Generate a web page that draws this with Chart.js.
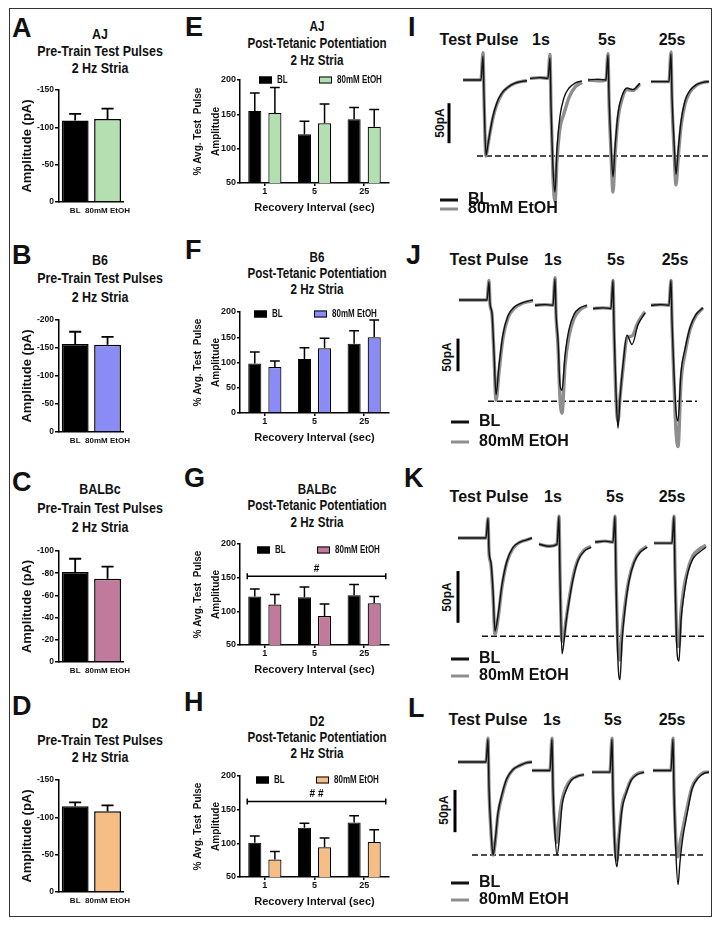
<!DOCTYPE html>
<html>
<head>
<meta charset="utf-8">
<title>Pre-train test pulses and post-tetanic potentiation, 2 Hz stria</title>
<script src="https://cdn.jsdelivr.net/npm/chart.js@4.4.1/dist/chart.umd.min.js"></script>
<style>
  body { margin: 0; background: #fff; }
  #page { position: relative; width: 721px; height: 926px; overflow: hidden; font-family: "Liberation Sans", Arial, sans-serif; color: #111; }
  #frame { position: absolute; left: 9px; top: 8px; width: 703px; height: 909px; border: 1.5px solid #333; box-sizing: border-box; }
  canvas { position: absolute; }
  .t { position: absolute; white-space: nowrap; line-height: 1; transform: translate(-50%, -50%); }
  .l { position: absolute; white-space: nowrap; line-height: 1; transform: translateY(-50%); }
  .letter { font-size: 27px; font-weight: bold; }
  /* condensed look of the original headings */
  .ttl { font-weight: bold; font-size: 15px; transform: translate(-50%, -50%) scaleX(0.83); }
  .ttl2 { font-weight: bold; font-size: 14px; transform: translate(-50%, -50%) scaleX(0.83); }
  .leg { font-weight: bold; font-size: 10px; transform-origin: left center; transform: translateY(-50%) scaleX(0.8); }
  .box { position: absolute; width: 13px; height: 7px; border: 1px solid #000; box-sizing: border-box; transform: translateY(-50%); }
  .tr { font-weight: bold; font-size: 16px; }
  .pa { font-weight: bold; font-size: 12px; transform: translate(-50%, -50%) rotate(-90deg); }
  .sw { position: absolute; width: 18px; height: 3px; transform: translateY(-50%); }
</style>
</head>
<body>
<div id="page">
  <div id="frame"></div>

  <!-- panel letters -->
  <div class="l letter" style="left:12px;top:28px">A</div>
  <div class="l letter" style="left:12px;top:255px">B</div>
  <div class="l letter" style="left:12px;top:482px">C</div>
  <div class="l letter" style="left:12px;top:706px">D</div>
  <div class="l letter" style="left:185px;top:27px">E</div>
  <div class="l letter" style="left:185px;top:250px">F</div>
  <div class="l letter" style="left:184px;top:478px">G</div>
  <div class="l letter" style="left:184px;top:702px">H</div>
  <div class="l letter" style="left:408px;top:27px">I</div>
  <div class="l letter" style="left:406px;top:255px">J</div>
  <div class="l letter" style="left:404px;top:478px">K</div>
  <div class="l letter" style="left:408px;top:708px">L</div>

  <!-- titles, left column -->
  <div class="t ttl" style="left:100px;top:33px">AJ</div>
  <div class="t ttl" style="left:100px;top:50px">Pre-Train Test Pulses</div>
  <div class="t ttl" style="left:100px;top:67px">2 Hz Stria</div>
  <div class="t ttl" style="left:100px;top:259px">B6</div>
  <div class="t ttl" style="left:100px;top:277px">Pre-Train Test Pulses</div>
  <div class="t ttl" style="left:100px;top:296px">2 Hz Stria</div>
  <div class="t ttl" style="left:100px;top:488px">BALBc</div>
  <div class="t ttl" style="left:100px;top:507px">Pre-Train Test Pulses</div>
  <div class="t ttl" style="left:100px;top:526px">2 Hz Stria</div>
  <div class="t ttl" style="left:100px;top:722px">D2</div>
  <div class="t ttl" style="left:100px;top:739px">Pre-Train Test Pulses</div>
  <div class="t ttl" style="left:100px;top:756px">2 Hz Stria</div>

  <!-- titles, middle column -->
  <div class="t ttl2" style="left:317px;top:26px">AJ</div>
  <div class="t ttl2" style="left:317px;top:43px">Post-Tetanic Potentiation</div>
  <div class="t ttl2" style="left:317px;top:60px">2 Hz Stria</div>
  <div class="t ttl2" style="left:317px;top:257px">B6</div>
  <div class="t ttl2" style="left:317px;top:273px">Post-Tetanic Potentiation</div>
  <div class="t ttl2" style="left:317px;top:289px">2 Hz Stria</div>
  <div class="t ttl2" style="left:317px;top:489px">BALBc</div>
  <div class="t ttl2" style="left:317px;top:505px">Post-Tetanic Potentiation</div>
  <div class="t ttl2" style="left:317px;top:522px">2 Hz Stria</div>
  <div class="t ttl2" style="left:317px;top:721px">D2</div>
  <div class="t ttl2" style="left:317px;top:737px">Post-Tetanic Potentiation</div>
  <div class="t ttl2" style="left:317px;top:753px">2 Hz Stria</div>

  <!-- trace panel headings -->
  <div class="t tr" style="left:479px;top:40px">Test Pulse</div>
  <div class="t tr" style="left:541px;top:40px">1s</div>
  <div class="t tr" style="left:607px;top:40px">5s</div>
  <div class="t tr" style="left:672px;top:40px">25s</div>
  <div class="t tr" style="left:489px;top:260px">Test Pulse</div>
  <div class="t tr" style="left:553px;top:260px">1s</div>
  <div class="t tr" style="left:616px;top:260px">5s</div>
  <div class="t tr" style="left:675px;top:260px">25s</div>
  <div class="t tr" style="left:489px;top:497px">Test Pulse</div>
  <div class="t tr" style="left:553px;top:497px">1s</div>
  <div class="t tr" style="left:615px;top:497px">5s</div>
  <div class="t tr" style="left:672px;top:497px">25s</div>
  <div class="t tr" style="left:488px;top:720px">Test Pulse</div>
  <div class="t tr" style="left:552px;top:720px">1s</div>
  <div class="t tr" style="left:613px;top:720px">5s</div>
  <div class="t tr" style="left:672px;top:720px">25s</div>

  <div class="t pa" style="left:440px;top:123px">50pA</div>
  <div class="t pa" style="left:447px;top:357px">50pA</div>
  <div class="t pa" style="left:447px;top:597px">50pA</div>
  <div class="t pa" style="left:444px;top:810px">50pA</div>

  <canvas id="cA" width="119" height="142" style="left:16px;top:80px"></canvas>
  <canvas id="cB" width="119" height="142" style="left:16px;top:310px"></canvas>
  <canvas id="cC" width="119" height="141" style="left:16px;top:541px"></canvas>
  <canvas id="cD" width="119" height="142" style="left:16px;top:770px"></canvas>

  <canvas id="cE" width="204" height="151" style="left:187px;top:70px"></canvas>
  <canvas id="cF" width="204" height="149" style="left:187px;top:302px"></canvas>
  <canvas id="cG" width="204" height="149" style="left:187px;top:534px"></canvas>
  <canvas id="cH" width="204" height="149" style="left:187px;top:766px"></canvas>

  <canvas id="cI" width="284" height="180" style="left:425px;top:45px"></canvas>
  <canvas id="cJ" width="284" height="190" style="left:425px;top:265px"></canvas>
  <canvas id="cK" width="284" height="195" style="left:425px;top:495px"></canvas>
  <canvas id="cL" width="284" height="190" style="left:425px;top:725px"></canvas>
</div>

<script>
// ---- pre-train test pulse amplitude (pA), mean and SEM ----
const preGroups = ["BL", "80mM EtOH"];
const preAJ = [-109, -111];      const preAJErr = [9, 14];
const preB6 = [-157, -156];      const preB6Err = [22, 14];
const preBALBc = [-81, -75];     const preBALBcErr = [12, 11];
const preD2 = [-115, -108];      const preD2Err = [5, 8];

// ---- post-tetanic potentiation, % of average test pulse ----
const intervals = ["1", "5", "25"];
const ptpAJ_BL = [155, 121, 143];    const ptpAJ_BLErr = [26, 19, 17];
const ptpAJ_Et = [152, 137, 132];    const ptpAJ_EtErr = [37, 28, 25];
const ptpB6_BL = [98, 107, 137];     const ptpB6_BLErr = [23, 22, 26];
const ptpB6_Et = [91, 128, 150];     const ptpB6_EtErr = [12, 20, 34];
const ptpBALBc_BL = [122, 121, 124]; const ptpBALBc_BLErr = [11, 15, 16];
const ptpBALBc_Et = [110, 93, 112];  const ptpBALBc_EtErr = [15, 18, 10];
const ptpD2_BL = [101, 123, 131];    const ptpD2_BLErr = [10, 7, 10];
const ptpD2_Et = [76, 94, 102];      const ptpD2_EtErr = [12, 14, 18];
const sigBALBc = 152;   // "#" bracket level
const sigD2 = 162;      // "# #" bracket level

// ---- example traces (pA, relative to test pulse baseline) ----
// sample times (ms) relative to each stimulus
const T = [-30, -20, -10, -2, 0, 1, 3, 5, 7, 10, 14, 19, 25, 32, 38, 44];

const I_stim = [58, 125, 183, 246];
const I_bl = [
  [null, 0, 0, 0, 30, -20, -94, -80, -65, -45, -28, -16, -9, -4, -2, -1],
  [null, 2, 3, 2, 28, -30, -110, -140, -85, -45, -22, -10, -4, -1, null, null],
  [null, 0, 1, 0, 31, -20, -80, -121, -85, -42, -20, -10, -12, -4, null, null],
  [null, -2, -2, -2, 33, -20, -75, -118, -90, -52, -26, -13, -6, -3, -2, null]
];
const I_et = [
  [null, 0, 0, 0, 34, -22, -95, -81, -66, -47, -30, -17, -9, -4, -2, -1],
  [null, 2, 3, 2, 32, -35, -120, -152, -100, -60, -42, -22, -9, -3, null, null],
  [null, 0, -1, 0, 33, -25, -90, -140, -95, -48, -24, -12, -13, -5, null, null],
  [null, -2, -2, -2, 35, -25, -85, -131, -100, -58, -30, -15, -7, -3, -2, null]
];
const I_ref = -95;

const J_stim = [64, 130, 188, 246];
const J_bl = [
  [0, 0, 0, 0, 28, -5, -20, -80, -145, -100, -52, -24, -11, -5, -2, 0],
  [null, -8, -7, -8, 32, -20, -60, -130, -138, -85, -45, -22, -12, -8, null, null],
  [null, -13, -12, -13, 30, -40, -140, -196, -150, -99, -54, -68, -38, -20, null, null],
  [null, -8, -7, -8, 30, -30, -110, -170, -185, -110, -75, -42, -22, -12, null, null]
];
const J_et = [
  [0, 0, 0, 0, 30, -6, -22, -85, -153, -110, -58, -27, -13, -6, -3, -1],
  [null, -8, -7, -8, 34, -22, -70, -150, -173, -100, -55, -28, -15, -9, null, null],
  [null, -13, -12, -13, 30, -45, -150, -185, -150, -105, -58, -55, -34, -18, null, null],
  [null, -8, -7, -8, 30, -35, -125, -200, -224, -125, -82, -45, -24, -12, null, null]
];
const J_ref = -155;

const K_stim = [63, 134, 190, 249];
const K_bl = [
  [0, 0, 0, 0, 19, -12, -24, -50, -90, -75, -45, -22, -9, -4, -2, 0],
  [null, -6, -8, -6, 21, -40, -112, -100, -82, -62, -40, -22, -13, -9, null, null],
  [null, -4, -3, -4, 21, -40, -120, -137, -100, -69, -42, -24, -14, -9, null, null],
  [null, -5, -5, -5, 21, -35, -110, -119, -80, -55, -33, -20, -14, -9, null, null]
];
const K_et = [
  [0, 0, 0, 0, 19, -14, -26, -55, -93, -78, -47, -23, -10, -4, -2, 0],
  [null, -6, -8, -6, 21, -35, -100, -95, -80, -60, -38, -21, -12, -8, null, null],
  [null, -4, -3, -4, 21, -35, -105, -118, -92, -65, -40, -23, -13, -8, null, null],
  [null, -5, -5, -5, 21, -30, -98, -105, -72, -48, -30, -17, -11, -7, null, null]
];
const K_ref = -95;

const L_stim = [63, 127, 187, 248];
const L_bl = [
  [0, 0, 0, 0, 27, -30, -80, -110, -95, -60, -38, -19, -9, -4, -1, 0],
  [null, -10, -10, -10, 27, -30, -85, -110, -95, -52, -34, -22, -17, -15, null, null],
  [null, -12, -12, -12, 27, -35, -105, -124, -92, -56, -38, -22, -15, -12, null, null],
  [null, -10, -10, -10, 27, -35, -110, -145, -118, -88, -62, -32, -19, -13, -12, null]
];
const L_et = [
  [0, 0, 0, 0, 28, -32, -82, -110, -97, -62, -40, -20, -9, -4, -1, 0],
  [null, -10, -10, -10, 28, -35, -80, -95, -70, -45, -30, -21, -17, -15, null, null],
  [null, -12, -12, -12, 28, -38, -100, -116, -88, -52, -36, -21, -14, -12, null, null],
  [null, -10, -10, -10, 28, -35, -95, -112, -96, -78, -55, -30, -18, -12, -12, null]
];
const L_ref = -110;

const FONT = '"Liberation Sans", Arial, sans-serif';
const GREEN = '#b4dfb1', BLUE = '#8b8bf5', MAUVE = '#c27a9c', PEACH = '#f6be85';

Chart.defaults.font.family = FONT;
Chart.defaults.color = '#111';

// upward SEM whiskers drawn from the bar tops
const errorBars = {
  id: 'errorBars',
  afterDatasetsDraw(chart, args, opts) {
    const ctx = chart.ctx, y = chart.scales.y;
    chart.data.datasets.forEach((ds, i) => {
      if (!ds.errors) return;
      chart.getDatasetMeta(i).data.forEach((bar, j) => {
        const v = ds.data[j];
        const yEnd = y.getPixelForValue(v + Math.sign(v) * ds.errors[j]);
        const half = bar.width * opts.cap / 2;
        ctx.save();
        ctx.strokeStyle = '#000';
        ctx.lineWidth = opts.width;
        ctx.beginPath();
        ctx.moveTo(bar.x, bar.y);
        ctx.lineTo(bar.x, yEnd);
        ctx.moveTo(bar.x - half, yEnd);
        ctx.lineTo(bar.x + half, yEnd);
        ctx.stroke();
        ctx.restore();
      });
    });
  }
};

// horizontal significance bracket over all groups
const sigBracket = {
  id: 'sigBracket',
  afterDatasetsDraw(chart, args, opts) {
    if (opts.value === undefined) return;
    const ctx = chart.ctx;
    const first = chart.getDatasetMeta(0).data[0];
    const lastMeta = chart.getDatasetMeta(chart.data.datasets.length - 1).data;
    const last = lastMeta[lastMeta.length - 1];
    const x0 = first.x - first.width / 2 - 1;
    const x1 = last.x + last.width / 2 + 5;
    const yy = chart.scales.y.getPixelForValue(opts.value);
    ctx.save();
    ctx.strokeStyle = '#000';
    ctx.lineWidth = 1.5;
    ctx.beginPath();
    ctx.moveTo(x0, yy); ctx.lineTo(x1, yy);
    ctx.moveTo(x0, yy - 3); ctx.lineTo(x0, yy + 3);
    ctx.moveTo(x1, yy - 3); ctx.lineTo(x1, yy + 3);
    ctx.stroke();
    ctx.fillStyle = '#000';
    ctx.font = 'bold 10px ' + FONT;
    ctx.textAlign = 'center';
    ctx.textBaseline = 'bottom';
    ctx.fillText(opts.text, (x0 + x1) / 2, yy - 2);
    ctx.restore();
  }
};

function preChart(id, vals, errs, color, yTop, step) {
  new Chart(document.getElementById(id), {
    type: 'bar',
    data: {
      labels: preGroups,
      datasets: [{
        data: vals,
        errors: errs,
        backgroundColor: ['#000', color],
        borderColor: '#000',
        borderWidth: 1.5,
        barPercentage: 0.83,
        categoryPercentage: 1
      }]
    },
    options: {
      responsive: false,
      animation: false,
      layout: { padding: { top: 10, right: 4, left: 0, bottom: 0 } },
      plugins: {
        legend: { display: false },
        tooltip: { enabled: false },
        errorBars: { cap: 0.45, width: 1.8 }
      },
      scales: {
        x: {
          ticks: { font: { size: 8, weight: 'bold' }, padding: 4, maxRotation: 0, autoSkip: false },
          grid: { drawOnChartArea: false, drawTicks: false },
          border: { color: '#000', width: 1.5 },
          afterFit(s) { s.height = 20; }
        },
        y: {
          reverse: true,
          min: yTop,
          max: 0,
          ticks: { stepSize: step, font: { size: 8.5, weight: 'bold' }, padding: 1 },
          grid: { drawOnChartArea: false, tickLength: 4, color: '#000', lineWidth: 1.5 },
          border: { color: '#000', width: 1.5 },
          title: { display: true, text: 'Amplitude (pA)', font: { size: 13, weight: 'bold' }, padding: { top: 4, bottom: 0 } },
          afterFit(s) { s.width = 43; }
        }
      }
    },
    plugins: [errorBars]
  });
}

function ptpChart(id, bl, blErr, et, etErr, color, yMin, sig) {
  new Chart(document.getElementById(id), {
    type: 'bar',
    data: {
      labels: intervals,
      datasets: [
        { label: 'BL', data: bl, errors: blErr, backgroundColor: '#000', borderColor: '#000', borderWidth: 1 },
        { label: '80mM EtOH', data: et, errors: etErr, backgroundColor: color, borderColor: '#000', borderWidth: 1.2 }
      ]
    },
    options: {
      responsive: false,
      animation: false,
      datasets: { bar: { barPercentage: 0.65, categoryPercentage: 0.81 } },
      layout: { padding: { top: 10, right: 2, left: 0, bottom: 0 } },
      plugins: {
        legend: { display: false },
        tooltip: { enabled: false },
        errorBars: { cap: 0.75, width: 1.5 },
        sigBracket: sig || {}
      },
      scales: {
        x: {
          ticks: { font: { size: 9, weight: 'bold' }, padding: 0, maxRotation: 0, autoSkip: false },
          grid: { offset: false, drawOnChartArea: false, tickLength: 3, color: '#000', lineWidth: 1.5 },
          border: { color: '#000', width: 1.5 },
          title: { display: true, text: 'Recovery Interval (sec)', font: { size: 11, weight: 'bold' }, padding: { top: 2, bottom: 6 } },
          afterFit(s) { s.height = 38; }
        },
        y: {
          min: yMin,
          max: 200,
          ticks: { stepSize: 50, font: { size: 9, weight: 'bold' }, padding: 1 },
          grid: { drawOnChartArea: false, tickLength: 3, color: '#000', lineWidth: 1.5 },
          border: { color: '#000', width: 1.5 },
          title: {
            display: true,
            text: ['% Avg. Test  Pulse', 'Amplitude'],
            font: { size: 10, weight: 'bold', lineHeight: 1.8 },
            padding: { top: 2, bottom: 0 }
          },
          afterFit(s) { s.width = 53; }
        }
      }
    },
    plugins: [errorBars, sigBracket]
  });
}

function buildTrace(stim, segs) {
  const pts = [];
  segs.forEach((seg, s) => {
    seg.forEach((v, k) => {
      if (v !== null) pts.push({ x: stim[s] + T[k], y: v });
    });
    pts.push({ x: pts[pts.length - 1].x, y: null });
  });
  return pts;
}

// lay: canvas height, baseline px from canvas top, px per pA, dashed line x-span, scale bar x and top
function traceChart(id, stim, bl, et, ref, lay) {
  const yMax = lay.base / lay.pxPerPA;
  const yMin = yMax - lay.height / lay.pxPerPA;
  new Chart(document.getElementById(id), {
    type: 'line',
    data: {
      datasets: [
        { label: 'BL', data: buildTrace(stim, bl), borderColor: '#111', borderWidth: 1.4 },
        { label: '80mM EtOH', data: buildTrace(stim, et), borderColor: '#8e8e8e', borderWidth: 3.4 },
        { label: 'ref', data: [{ x: lay.refFrom, y: ref }, { x: lay.refTo, y: ref }], borderColor: '#111', borderWidth: 1.5, borderDash: [6, 3] },
        { label: '50pA', data: [{ x: lay.barX, y: lay.barTop }, { x: lay.barX, y: lay.barTop - 50 }], borderColor: '#000', borderWidth: 3 }
      ]
    },
    options: {
      responsive: false,
      animation: false,
      spanGaps: false,
      layout: { padding: 0 },
      elements: { point: { radius: 0 }, line: { cubicInterpolationMode: 'monotone', borderCapStyle: 'butt' } },
      plugins: { legend: { display: false }, tooltip: { enabled: false } },
      scales: {
        x: { type: 'linear', min: 0, max: 284, display: false },
        y: { min: yMin, max: yMax, display: false }
      }
    }
  });
}

function traceLegend(x, yBL, yEt) {
  const page = document.getElementById('page');
  [[yBL, '#111', 'BL'], [yEt, '#8e8e8e', '80mM EtOH']].forEach(([y, c, txt]) => {
    const sw = document.createElement('div');
    sw.className = 'sw';
    sw.style.cssText = `left:${x}px;top:${y}px;background:${c}`;
    page.appendChild(sw);
    const t = document.createElement('div');
    t.className = 'l tr';
    t.style.cssText = `left:${x + 28}px;top:${y - 1}px`;
    t.textContent = txt;
    page.appendChild(t);
  });
}

function barLegend(x, y, color) {
  const page = document.getElementById('page');
  [[x, '#000', 'BL'], [x + 60, color, '80mM EtOH']].forEach(([bx, c, txt]) => {
    const b = document.createElement('div');
    b.className = 'box';
    b.style.cssText = `left:${bx}px;top:${y}px;background:${c}`;
    page.appendChild(b);
    const t = document.createElement('div');
    t.className = 'l leg';
    t.style.cssText = `left:${bx + 18}px;top:${y}px`;
    t.textContent = txt;
    page.appendChild(t);
  });
}

preChart('cA', preAJ, preAJErr, GREEN, -150, 50);
preChart('cB', preB6, preB6Err, BLUE, -200, 50);
preChart('cC', preBALBc, preBALBcErr, MAUVE, -100, 20);
preChart('cD', preD2, preD2Err, PEACH, -150, 50);

ptpChart('cE', ptpAJ_BL, ptpAJ_BLErr, ptpAJ_Et, ptpAJ_EtErr, GREEN, 50);
ptpChart('cF', ptpB6_BL, ptpB6_BLErr, ptpB6_Et, ptpB6_EtErr, BLUE, 0);
ptpChart('cG', ptpBALBc_BL, ptpBALBc_BLErr, ptpBALBc_Et, ptpBALBc_EtErr, MAUVE, 50, { value: sigBALBc, text: '#' });
ptpChart('cH', ptpD2_BL, ptpD2_BLErr, ptpD2_Et, ptpD2_EtErr, PEACH, 50, { value: sigD2, text: '# #' });

barLegend(259, 80, GREEN);
barLegend(254, 314, BLUE);
barLegend(257, 550, MAUVE);
barLegend(256, 780, PEACH);

traceChart('cI', I_stim, I_bl, I_et, I_ref, { height: 180, base: 35, pxPerPA: 0.8, refFrom: 52, refTo: 283, barX: 24, barTop: -29 });
traceChart('cJ', J_stim, J_bl, J_et, J_ref, { height: 190, base: 35, pxPerPA: 0.654, refFrom: 63, refTo: 272, barX: 33, barTop: -59 });
traceChart('cK', K_stim, K_bl, K_et, K_ref, { height: 195, base: 43, pxPerPA: 1.034, refFrom: 57, refTo: 282, barX: 33, barTop: -32 });
traceChart('cL', L_stim, L_bl, L_et, L_ref, { height: 190, base: 37, pxPerPA: 0.846, refFrom: 47, refTo: 280, barX: 30, barTop: -33 });

traceLegend(440, 200, 209);
traceLegend(451, 422, 442);
traceLegend(451, 659, 676);
traceLegend(451, 883, 900);
</script>
</body>
</html>
